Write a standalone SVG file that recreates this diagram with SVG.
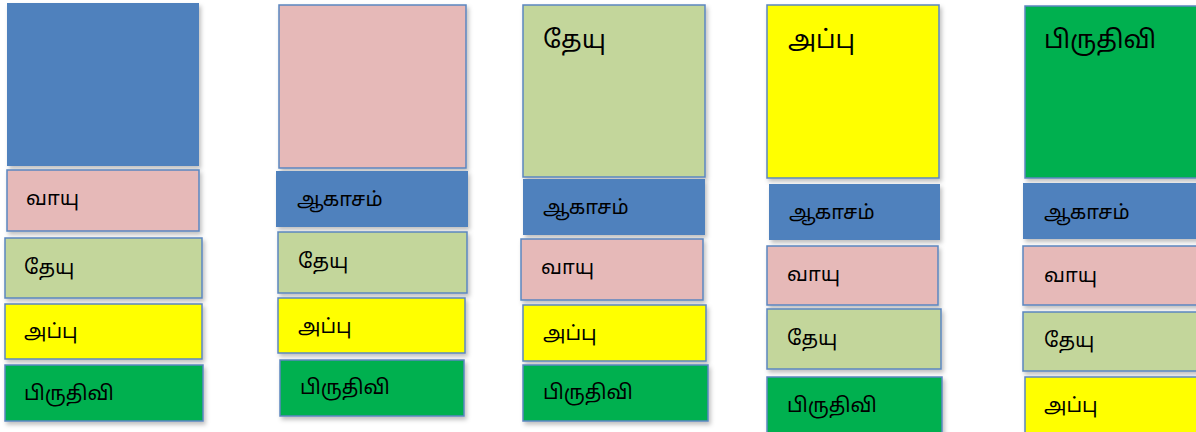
<svg xmlns="http://www.w3.org/2000/svg" width="1196" height="432" viewBox="0 0 1196 432">
<defs>
<filter id="sh" x="-5%" y="-10%" width="115%" height="130%">
<feDropShadow dx="2" dy="3" stdDeviation="2" flood-color="#000" flood-opacity="0.25"/>
</filter>
</defs>
<style>
rect{stroke:#5B86C0;stroke-width:1.5;filter:url(#sh)}
.b{fill:#4F81BD}
.p{fill:#E6B9B8}
.g{fill:#C3D69B}
.y{fill:#FFFF00}
.d{fill:#06B050}
text{font-family:"Noto Sans","Noto Sans Tamil","DejaVu Sans",sans-serif;font-size:20px;fill:#000}
.L{font-size:25px}
</style>
<rect width="1196" height="432" fill="#fff" style="stroke:none;filter:none"/>
<g id="col1">
<g id="c1-big"><rect class="b" x="7" y="3" width="192" height="163" style="stroke:none"/></g>
<g id="c1-vayu"><rect class="p" x="7" y="170" width="192" height="61"/><text x="26" y="205">வாயு</text></g>
<g id="c1-theyu"><rect class="g" x="5" y="238" width="197" height="60"/><text x="24" y="274">தேயு</text></g>
<g id="c1-appu"><rect class="y" x="5" y="304" width="197" height="55"/><text x="24" y="338">அப்பு</text></g>
<g id="c1-pruthivi"><rect class="d" x="5" y="365" width="198" height="56"/><text x="24" y="400">பிருதிவி</text></g>
</g>
<g id="col2">
<g id="c2-big"><rect class="p" x="279" y="5" width="187" height="163"/></g>
<g id="c2-akasam"><rect class="b" x="276" y="171" width="192" height="56" style="stroke:none"/><text x="297" y="206">ஆகாசம்</text></g>
<g id="c2-theyu"><rect class="g" x="278" y="232" width="189" height="61"/><text x="298" y="268">தேயு</text></g>
<g id="c2-appu"><rect class="y" x="278" y="298" width="187" height="55"/><text x="298" y="333">அப்பு</text></g>
<g id="c2-pruthivi"><rect class="d" x="280" y="360" width="184" height="56"/><text x="300" y="394">பிருதிவி</text></g>
</g>
<g id="col3">
<g id="c3-big"><rect class="g" x="523" y="5" width="182" height="172"/><text class="L" x="543" y="48">தேயு</text></g>
<g id="c3-akasam"><rect class="b" x="523" y="179" width="182" height="56" style="stroke:none"/><text x="543" y="214">ஆகாசம்</text></g>
<g id="c3-vayu"><rect class="p" x="521" y="239" width="182" height="61"/><text x="541" y="274">வாயு</text></g>
<g id="c3-appu"><rect class="y" x="523" y="305" width="183" height="56"/><text x="543" y="340">அப்பு</text></g>
<g id="c3-pruthivi"><rect class="d" x="523" y="365" width="185" height="56"/><text x="543" y="399">பிருதிவி</text></g>
</g>
<g id="col4">
<g id="c4-big"><rect class="y" x="767" y="5" width="172" height="173"/><text class="L" x="788" y="48">அப்பு</text></g>
<g id="c4-akasam"><rect class="b" x="769" y="184" width="171" height="56" style="stroke:none"/><text x="789" y="219">ஆகாசம்</text></g>
<g id="c4-vayu"><rect class="p" x="767" y="246" width="171" height="59"/><text x="787" y="281">வாயு</text></g>
<g id="c4-theyu"><rect class="g" x="767" y="309" width="174" height="60"/><text x="787" y="345">தேயு</text></g>
<g id="c4-pruthivi"><rect class="d" x="767" y="377" width="175" height="60"/><text x="787" y="412">பிருதிவி</text></g>
</g>
<g id="col5">
<g id="c5-big"><rect class="d" x="1025" y="6" width="180" height="172" style="fill:#00B050"/><text class="L" x="1044" y="48">பிருதிவி</text></g>
<g id="c5-akasam"><rect class="b" x="1023" y="183" width="180" height="56" style="stroke:none"/><text x="1044" y="219">ஆகாசம்</text></g>
<g id="c5-vayu"><rect class="p" x="1023" y="246" width="180" height="59"/><text x="1044" y="282">வாயு</text></g>
<g id="c5-theyu"><rect class="g" x="1023" y="312" width="180" height="59"/><text x="1044" y="347">தேயு</text></g>
<g id="c5-appu"><rect class="y" x="1025" y="377" width="180" height="60"/><text x="1044" y="412">அப்பு</text></g>
</g>
<g id="connectors"/>
</svg>
